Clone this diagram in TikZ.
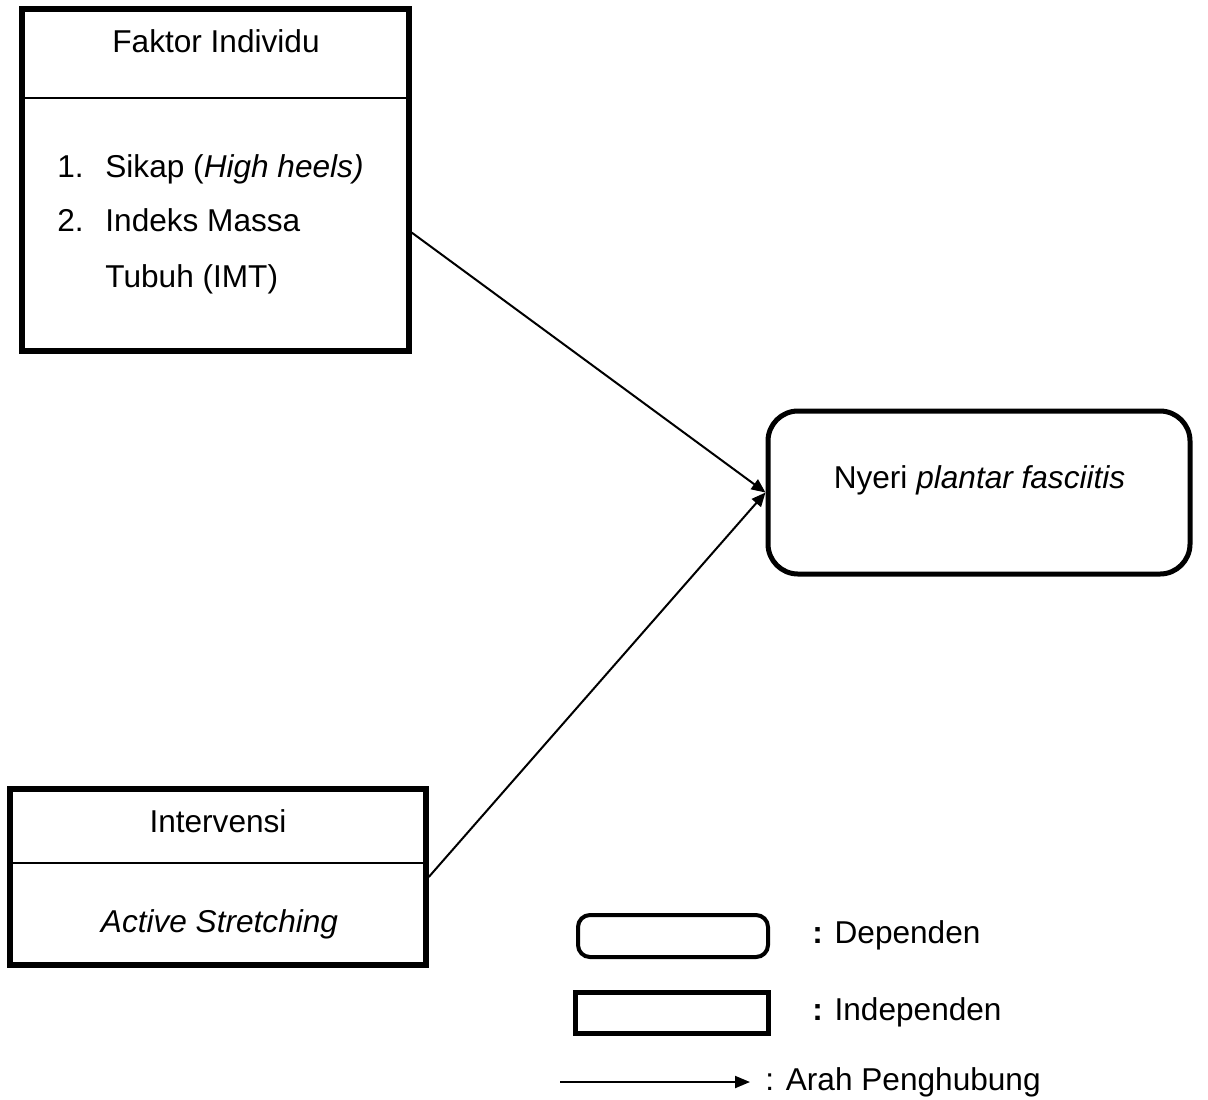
\documentclass[tikz,border=0pt]{standalone}
\usepackage{fontspec}
\setmainfont{Liberation Sans}
\usetikzlibrary{positioning,arrows.meta}

\begin{document}
\begin{tikzpicture}[x=0.5pt, y=-0.5pt,
    font=\fontsize{15.8}{19}\selectfont,
    indbox/.style={draw, rectangle, line width=2.75pt, inner sep=0pt},
    depbox/.style={draw, rectangle, rounded corners=15pt, line width=2.5pt, inner sep=0pt},
    divider/.style={line width=0.9pt},
    conn/.style={line width=1pt, -{Triangle[length=7pt, width=6pt]}},
    txt/.style={anchor=base, inner sep=0pt}]
    \useasboundingbox (0,0) rectangle (1208,1099);

    % Faktor individu
    \node[indbox, minimum width=193.5pt, minimum height=171pt] (faktor) at (215.5,180) {};
    \draw[divider] (22,98) -- (409,98);
    \node[txt] (faktorT) at (216,52) {Faktor Individu};
    \node[txt, anchor=base west] (n1) at (57,177) {1.};
    \node[txt, anchor=base west] (sikap) at (105,177) {Sikap (\textit{High heels)}};
    \node[txt, anchor=base west] (n2) at (57,231) {2.};
    \node[txt, anchor=base west] (imt) at (105,231) {Indeks Massa};
    \node[txt, anchor=base west] (imt2) at (105,287) {Tubuh (IMT)};

    % Intervensi
    \node[indbox, minimum width=208pt, minimum height=88pt] (interv) at (218,877) {};
    \draw[divider] (10,863) -- (426,863);
    \node[txt] (intervT) at (218,832) {Intervensi};
    \node[txt] (stretch) at (219.5,932) {\textit{Active Stretching}};

    % Nyeri plantar fasciitis
    \node[depbox, minimum width=211pt, minimum height=81.5pt] (nyeri) at (979,492.5) {};
    \node[txt] (nyeriT) at (979.5,488) {Nyeri \textit{plantar fasciitis}};

    % Connectors
    \draw[conn] (faktor.-15) -- (nyeri.west);
    \draw[conn] (interv.east) -- (nyeri.west);

    % Legend
    \node[depbox, rounded corners=6pt, line width=2pt, minimum width=95pt, minimum height=21pt] (legdep) at (673,936) {};
    \node[txt, anchor=base west] (legdepT) at (812,943) {\textbf{:} Dependen};
    \node[indbox, line width=2.5pt, minimum width=96.5pt, minimum height=20.5pt] (legind) at (671.5,1012.5) {};
    \node[txt, anchor=base west] (legindT) at (812,1020) {\textbf{:} Independen};
    \coordinate (legA) at (560,1082);
    \coordinate (legB) at (750,1082);
    \draw[line width=1pt, -{Triangle[length=7.5pt, width=6pt]}] (legA) -- (legB);
    \node[txt, anchor=base west] (legarrT) at (765,1090) {: Arah Penghubung};
\end{tikzpicture}
\end{document}
